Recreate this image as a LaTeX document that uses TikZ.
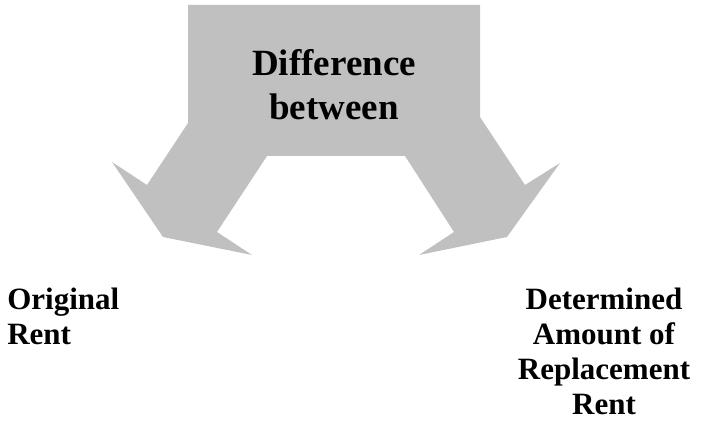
\documentclass[tikz,border=0pt]{standalone}
\usepackage{fontspec}
\setmainfont{Liberation Serif}
\usetikzlibrary{positioning}
\definecolor{arrowgray}{RGB}{192,192,192}

\begin{document}
\begin{tikzpicture}
    [x=0.75pt,y=-0.75pt,
    title text/.style={inner sep=0pt,align=center,font=\bfseries\fontsize{27.75}{33}\selectfont},
    side text/.style={inner sep=0pt,font=\bfseries\fontsize{23.25}{26.1}\selectfont}]
    \useasboundingbox (0,0) rectangle (701,427);
    % 先画灰色的双向箭头
    \fill [arrowgray] (188,5) -- (188,123) -- (147,185) -- (112,162) -- (163,237)
        -- (252,255) -- (217,232) -- (267,156) -- (405,156) -- (454,232)
        -- (419,255) -- (507,237) -- (560,163) -- (525,185) -- (480,117)
        -- (480,5) -- cycle;
    % 箭头中间的文字
    \node [title text,anchor=north] (diff) at (334,49) {Difference\\between};
    % 两边的文字
    \node [side text,anchor=north west,align=left] (orig) at (7,288) {Original\\Rent};
    \node [side text,anchor=north,align=center] (repl) at (604,288)
        {Determined\\Amount of\\Replacement\\Rent};
\end{tikzpicture}
\end{document}
